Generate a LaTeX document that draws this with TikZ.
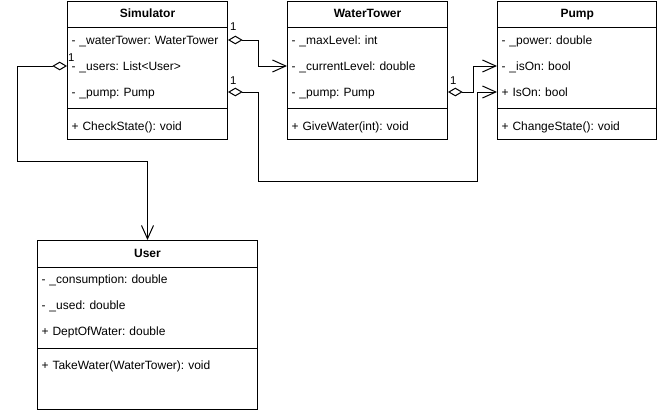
\documentclass[tikz,border=0pt]{standalone}
\usepackage{fontspec}
\setmainfont{Liberation Sans}
\usetikzlibrary{arrows.meta,calc}
\frenchspacing
\begin{document}
\frenchspacing
\begin{tikzpicture}[x=0.75pt,y=-0.75pt,line width=0.75pt,
  frame/.style={draw, anchor=north west, inner sep=0pt},
  head/.style={font=\fontsize{9pt}{11pt}\selectfont\bfseries, anchor=north west, inner sep=0pt, minimum width=#1, minimum height=19.5pt, text height=7.5pt, text depth=2pt},
  row/.style={font=\fontsize{9pt}{11pt}\selectfont, anchor=north west, inner xsep=3pt, inner ysep=0pt, text width=#1, minimum height=19.5pt, align=left, text height=8pt, text depth=2pt},
  lbl/.style={font=\fontsize{8.5pt}{10pt}\selectfont, inner sep=0.5pt, anchor=west},
  agg/.style={draw, {Diamond[open,length=11pt,width=6.5pt]}-{Straight Barb[length=10pt,width=9pt]}},
  sepline/.style={draw}
]
\useasboundingbox (0,0) rectangle (657,414);

% Simulator
\node[frame, minimum width=120pt, minimum height=103.5pt] (sim) at (67,0.5) {};
\node[head=120pt] (simHead) at (67,0.5) {Simulator};
\node[row=114pt] (simWT) at (67,26.5) {- \_waterTower: WaterTower};
\node[row=114pt] (simUsers) at (67,52.5) {- \_users: List<User>};
\node[row=114pt] (simPump) at (67,78.5) {- \_pump: Pump};
\node[row=114pt] (simM) at (67,112.5) {+ CheckState(): void};
\draw[sepline] (simHead.south west) -- (simHead.south east);
\draw[sepline] ($(simM.north west)+(0,-4)$) -- ($(simM.north east)+(0,-4)$);

% WaterTower
\node[frame, minimum width=120pt, minimum height=103.5pt] (wt) at (287,0.5) {};
\node[head=120pt] (wtHead) at (287,0.5) {WaterTower};
\node[row=114pt] (wtMax) at (287,26.5) {- \_maxLevel: int};
\node[row=114pt] (wtCur) at (287,52.5) {- \_currentLevel: double};
\node[row=114pt] (wtPump) at (287,78.5) {- \_pump: Pump};
\node[row=114pt] (wtM) at (287,112.5) {+ GiveWater(int): void};
\draw[sepline] (wtHead.south west) -- (wtHead.south east);
\draw[sepline] ($(wtM.north west)+(0,-4)$) -- ($(wtM.north east)+(0,-4)$);

% Pump
\node[frame, minimum width=119.6pt, minimum height=103.5pt] (pump) at (497,0.5) {};
\node[head=119.6pt] (pumpHead) at (497,0.5) {Pump};
\node[row=113.6pt] (pumpPow) at (497,26.5) {- \_power: double};
\node[row=113.6pt] (pumpIsOnP) at (497,52.5) {- \_isOn: bool};
\node[row=113.6pt] (pumpIsOn) at (497,78.5) {+ IsOn: bool};
\node[row=113.6pt] (pumpM) at (497,112.5) {+ ChangeState(): void};
\draw[sepline] (pumpHead.south west) -- (pumpHead.south east);
\draw[sepline] ($(pumpM.north west)+(0,-4)$) -- ($(pumpM.north east)+(0,-4)$);

% User
\node[frame, minimum width=165pt, minimum height=126.75pt] (user) at (37,240) {};
\node[head=165pt] (userHead) at (37,240) {User};
\node[row=159pt] (userCons) at (37,266) {- \_consumption: double};
\node[row=159pt] (userUsed) at (37,292) {- \_used: double};
\node[row=159pt] (userDept) at (37,318) {+ DeptOfWater: double};
\node[row=159pt] (userM) at (37,352) {+ TakeWater(WaterTower): void};
\draw[sepline] (userHead.south west) -- (userHead.south east);
\draw[sepline] ($(userM.north west)+(0,-4)$) -- ($(userM.north east)+(0,-4)$);

% connectors
\draw[agg] (simWT.east) -- ++(30,0) |- (wtCur.west);
\draw[agg] (simPump.east) -- ++(30,0) -- ++(0,89) -| ($(pumpIsOn.west)+(-20,0)$) -- (pumpIsOn.west);
\draw[agg] (wtPump.east) -- ++(25,0) |- (pumpIsOnP.west);
\draw[agg] (simUsers.west) -- ++(-50,0) -- ++(0,95) -| (userHead.north);

% multiplicities
\node[lbl] (m1) at ($(simWT.north east)+(1,0)$) {1};
\node[lbl] (m2) at ($(simPump.north east)+(1,2)$) {1};
\node[lbl] (m3) at ($(wtPump.north east)+(1,2)$) {1};
\node[lbl] (m4) at ($(simUsers.north west)+(0,5)$) {1};
\end{tikzpicture}
\end{document}
